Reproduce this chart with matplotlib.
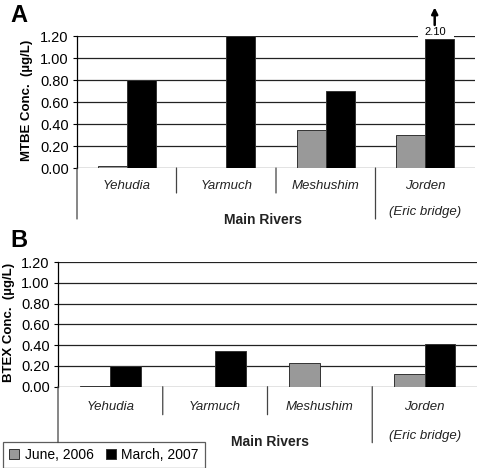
import matplotlib
matplotlib.use("Agg")
import matplotlib.pyplot as plt
import matplotlib.transforms as mtransforms
from matplotlib.patches import Patch, Rectangle
import numpy as np

plt.rcParams['font.family'] = ['Liberation Sans', 'DejaVu Sans']

#================================================================================================#
## data
rivers = ["Yehudia", "Yarmuch", "Meshushim", "Jorden"]
sub_labels = ["Main Rivers", "(Eric bridge)"]
series_names = ["June, 2006", "March, 2007"]

mtbe_june = [0.02, 0.00, 0.35, 0.30]
mtbe_march = [0.80, 1.20, 0.70, 2.10]
btex_june = [0.01, 0.00, 0.23, 0.12]
btex_march = [0.20, 0.34, 0.00, 0.41]

yticks = [0.0, 0.2, 0.4, 0.6, 0.8, 1.0, 1.2]

## plot parameters
c_june = "#999999"
c_march = "#000000"
bar_w = 0.29
lw_grid = 0.9
mtbe_cap = 1.17          # off-scale bar drawn up to here, real value written above

#================================================================================================#
def px_off(ax, fig, dy):
    # x in data coords, y at axis bottom shifted down by dy pixels
    return mtransforms.offset_copy(ax.get_xaxis_transform(), fig=fig, y=-dy, units='dots')

def vline_below(ax, fig, xs, dy):
    ax.annotate("", xy=(xs, 0), xycoords=ax.get_xaxis_transform(),
                xytext=(xs, 0), textcoords=px_off(ax, fig, dy),
                arrowprops=dict(arrowstyle="-", color="#444444", lw=0.9, shrinkA=0, shrinkB=0))

def draw_panel(fig, ax, june, march, lvl, main_x, cap=None):
    x = np.arange(len(rivers))
    march_draw = [cap if (cap and v > 1.2) else v for v in march]
    ax.bar(x - bar_w/2, june, bar_w, color=c_june, edgecolor="#333333", linewidth=0.7, zorder=3)
    ax.bar(x + bar_w/2, march_draw, bar_w, color=c_march, edgecolor="#333333", linewidth=0.7, zorder=3)

    ax.set_xlim(-0.5, len(rivers) - 0.5)
    ax.set_ylim(0, 1.2)
    ax.set_yticks(yticks)
    ax.set_yticklabels(["%.2f" % t for t in yticks], fontsize=10.5)
    ax.set_xticks([])
    ax.tick_params(axis='y', length=3, width=0.8, pad=3)
    for t in yticks:
        ax.axhline(t, color="#222222", lw=lw_grid, zorder=1)
    for s in ["top", "right", "bottom"]:
        ax.spines[s].set_visible(False)
    ax.spines["left"].set_linewidth(0.9)

    # two-level category axis
    cat_dy, inner_dy, outer_dy, main_dy, eric_dy = lvl
    for i, name in enumerate(rivers):
        ax.text(i, 0, name, transform=px_off(ax, fig, cat_dy), ha="center", va="center",
                fontsize=9.5, style="italic", color="#222222")
    for xs in [0.5, 1.5]:
        vline_below(ax, fig, xs, inner_dy)
    for xs in [-0.5, 2.5]:
        vline_below(ax, fig, xs, outer_dy)
    ax.text(main_x, 0, sub_labels[0], transform=px_off(ax, fig, main_dy), ha="center", va="center",
            fontsize=10, fontweight="bold", color="#222222")
    ax.text(3.0, 0, sub_labels[1], transform=px_off(ax, fig, eric_dy), ha="center", va="center",
            fontsize=9.5, style="italic", color="#222222")

#================================================================================================#
def main():
    fig = plt.figure(figsize=(4.85, 4.68), dpi=100)
    W, H = 485.0, 468.0

    axA = fig.add_axes([77/W, 1 - 168/H, (475 - 77)/W, (168 - 36)/H])
    draw_panel(fig, axA, mtbe_june, mtbe_march, (18, 25, 51, 52, 44), 1.37, cap=mtbe_cap)

    # off-scale Jorden bar: gap in the top gridline, value written above, arrow pointing up
    jx = 3 + bar_w/2
    axA.add_patch(Rectangle((jx - bar_w/2 - 0.07, mtbe_cap + 0.005), bar_w + 0.07, 0.06,
                            facecolor="white", edgecolor="none", zorder=4, clip_on=False))
    axA.text(jx - 0.04, 1.238, "%.2f" % mtbe_march[3], ha="center", va="center", fontsize=8,
             zorder=5)
    axA.annotate("", xy=(jx - 0.05, 1.46), xytext=(jx - 0.05, 1.30),
                 arrowprops=dict(arrowstyle="-|>", color="black", lw=1.8, mutation_scale=9,
                                 shrinkA=0, shrinkB=0), annotation_clip=False)

    axB = fig.add_axes([58/W, 1 - 386.7/H, (477 - 58)/W, (386.7 - 262)/H])
    draw_panel(fig, axB, btex_june, btex_march, (20, 28, 56, 55, 49), 1.52)

    fig.text(27/W, 1 - 100/H, "MTBE Conc.  (\u00b5g/L)", rotation=90, fontsize=9.5,
             fontweight="bold", ha="center", va="center")
    fig.text(9/W, 1 - 322/H, "BTEX Conc.  (\u00b5g/L)", rotation=90, fontsize=9.5,
             fontweight="bold", ha="center", va="center")

    fig.text(10/W, 1 - 15/H, "A", fontsize=17, fontweight="bold", ha="left", va="center")
    fig.text(10/W, 1 - 241/H, "B", fontsize=17, fontweight="bold", ha="left", va="center")

    handles = [Patch(facecolor=c_june, edgecolor="#333333", lw=0.7),
               Patch(facecolor=c_march, edgecolor="#333333", lw=0.7)]
    leg = fig.legend(handles, series_names, loc="lower left", bbox_to_anchor=(3/W, 0.0),
                     ncol=2, fontsize=10, frameon=True, fancybox=False, edgecolor="#333333",
                     handlelength=0.7, handleheight=0.7, handletextpad=0.4, columnspacing=0.9,
                     borderpad=0.45, borderaxespad=0.0)
    leg.get_frame().set_linewidth(0.9)

    plt.savefig("out.png", dpi=100)
    plt.clf()

#================================================================================================#
if __name__ == '__main__':
    main()
